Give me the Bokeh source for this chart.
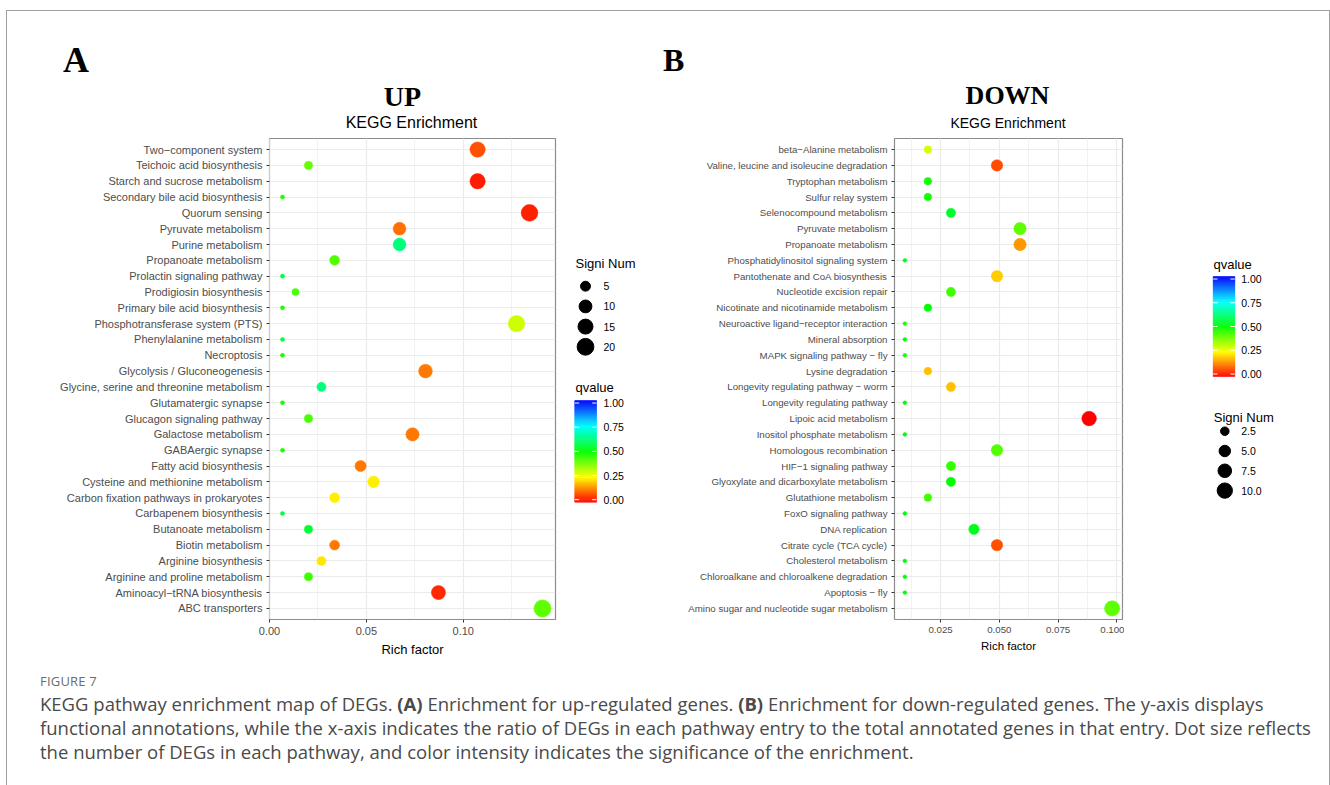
import numpy as np
from bokeh.plotting import figure
from bokeh.models import (FactorRange, Range1d, ColumnDataSource, LinearColorMapper,
                          SingleIntervalTicker, PrintfTickFormatter, Div)
from bokeh.layouts import row, column
from bokeh.transform import transform
from bokeh.embed import file_html
from bokeh.resources import INLINE
from bokeh.core.properties import value

# ---------------- data ----------------
up_terms = [
    "Two\u2212component system", "Teichoic acid biosynthesis", "Starch and sucrose metabolism",
    "Secondary bile acid biosynthesis", "Quorum sensing", "Pyruvate metabolism", "Purine metabolism",
    "Propanoate metabolism", "Prolactin signaling pathway", "Prodigiosin biosynthesis",
    "Primary bile acid biosynthesis", "Phosphotransferase system (PTS)", "Phenylalanine metabolism",
    "Necroptosis", "Glycolysis / Gluconeogenesis", "Glycine, serine and threonine metabolism",
    "Glutamatergic synapse", "Glucagon signaling pathway", "Galactose metabolism", "GABAergic synapse",
    "Fatty acid biosynthesis", "Cysteine and methionine metabolism",
    "Carbon fixation pathways in prokaryotes", "Carbapenem biosynthesis", "Butanoate metabolism",
    "Biotin metabolism", "Arginine biosynthesis", "Arginine and proline metabolism",
    "Aminoacyl\u2212tRNA biosynthesis", "ABC transporters",
]
up_rich = [0.1074, 0.0201, 0.1074, 0.0067, 0.1342, 0.0671, 0.0671, 0.0336, 0.0067, 0.0134,
           0.0067, 0.1275, 0.0067, 0.0067, 0.0805, 0.0268, 0.0067, 0.0201, 0.0738, 0.0067,
           0.0470, 0.0537, 0.0336, 0.0067, 0.0201, 0.0336, 0.0268, 0.0201, 0.0872, 0.1409]
up_count = [16, 3, 16, 1, 20, 10, 10, 5, 1, 2,
            1, 19, 1, 1, 12, 4, 1, 3, 11, 1,
            7, 8, 5, 1, 3, 5, 4, 3, 13, 21]
up_q = [0.08, 0.40, 0.03, 0.48, 0.035, 0.11, 0.62, 0.42, 0.57, 0.43,
        0.48, 0.30, 0.57, 0.48, 0.12, 0.62, 0.48, 0.43, 0.12, 0.48,
        0.12, 0.235, 0.235, 0.56, 0.55, 0.12, 0.23, 0.44, 0.04, 0.41]

down_terms = [
    "beta\u2212Alanine metabolism", "Valine, leucine and isoleucine degradation", "Tryptophan metabolism",
    "Sulfur relay system", "Selenocompound metabolism", "Pyruvate metabolism", "Propanoate metabolism",
    "Phosphatidylinositol signaling system", "Pantothenate and CoA biosynthesis",
    "Nucleotide excision repair", "Nicotinate and nicotinamide metabolism",
    "Neuroactive ligand\u2212receptor interaction", "Mineral absorption",
    "MAPK signaling pathway \u2212 fly", "Lysine degradation", "Longevity regulating pathway \u2212 worm",
    "Longevity regulating pathway", "Lipoic acid metabolism", "Inositol phosphate metabolism",
    "Homologous recombination", "HIF\u22121 signaling pathway", "Glyoxylate and dicarboxylate metabolism",
    "Glutathione metabolism", "FoxO signaling pathway", "DNA replication", "Citrate cycle (TCA cycle)",
    "Cholesterol metabolism", "Chloroalkane and chloroalkene degradation", "Apoptosis \u2212 fly",
    "Amino sugar and nucleotide sugar metabolism",
]
down_rich = [0.0196, 0.0490, 0.0196, 0.0196, 0.0294, 0.0588, 0.0588, 0.0098, 0.0490, 0.0294,
             0.0196, 0.0098, 0.0098, 0.0098, 0.0196, 0.0294, 0.0098, 0.0882, 0.0098, 0.0490,
             0.0294, 0.0294, 0.0196, 0.0098, 0.0392, 0.0490, 0.0098, 0.0098, 0.0098, 0.0980]
down_count = [2, 5, 2, 2, 3, 6, 6, 1, 5, 3,
              2, 1, 1, 1, 2, 3, 1, 9, 1, 5,
              3, 3, 2, 1, 4, 5, 1, 1, 1, 10]
down_q = [0.29, 0.075, 0.48, 0.48, 0.54, 0.41, 0.15, 0.52, 0.20, 0.44,
          0.50, 0.47, 0.50, 0.47, 0.19, 0.19, 0.50, 0.003, 0.50, 0.42,
          0.45, 0.50, 0.44, 0.50, 0.53, 0.08, 0.50, 0.50, 0.50, 0.41]

q_ticks = [0.0, 0.25, 0.5, 0.75, 1.0]
q_tick_labels = ["0.00", "0.25", "0.50", "0.75", "1.00"]
up_size_breaks = [5, 10, 15, 20]
up_size_labels = ["5", "10", "15", "20"]
down_size_breaks = [2.5, 5.0, 7.5, 10.0]
down_size_labels = ["2.5", "5.0", "7.5", "10.0"]

# ---------------- styling helpers ----------------
SANS = "Liberation Sans"
SERIF = "Liberation Serif"
STOPS = [(255, 0, 0), (255, 255, 0), (0, 255, 0), (0, 255, 255), (0, 0, 255)]


def make_palette(n=256):
    out = []
    for i in range(n):
        t = i / (n - 1) * (len(STOPS) - 1)
        k = min(int(t), len(STOPS) - 2)
        f = t - k
        c = [int(round(STOPS[k][j] * (1 - f) + STOPS[k + 1][j] * f)) for j in range(3)]
        out.append("#%02x%02x%02x" % tuple(c))
    return out


PALETTE = make_palette()
mapper = LinearColorMapper(palette=PALETTE, low=0, high=1)


def size_scale(n, nmin, nmax, k):
    s = 1 + 5 * np.sqrt(np.clip((np.asarray(n, float) - nmin) / (nmax - nmin), 0, 1))
    return k * s + 1.5


PAGE_TOP = 11          # first pixel row below the frame line
HEAD_H = 120           # header strip (panel letters and titles)
FIG_H = 534
BORDER_T, BORDER_B = 7, 46
FIG_TOP = PAGE_TOP + HEAD_H
FRAME_TOP = FIG_TOP + BORDER_T
FRAME_BOT = FIG_TOP + FIG_H - BORDER_B


def panel(terms, rich, count, q, width, left, k, tick_px, xlab_px, interval, fmt):
    factors = list(reversed(terms))
    lo, hi = min(rich), max(rich)
    pad = (hi - lo) * 0.05
    p = figure(width=width, height=FIG_H,
               x_range=Range1d(lo - pad, hi + pad),
               y_range=FactorRange(factors=factors, range_padding=0.2, range_padding_units="absolute"),
               output_backend="svg", toolbar_location=None,
               min_border_left=left, min_border_right=2, min_border_top=BORDER_T,
               min_border_bottom=BORDER_B)
    nmin, nmax = min(count), max(count)
    src = ColumnDataSource(dict(term=terms, rich=rich, q=q, d=size_scale(count, nmin, nmax, k)))
    p.scatter("rich", "term", size="d", source=src,
              fill_color=transform("q", mapper), line_color=transform("q", mapper), line_width=0.5)
    tk = SingleIntervalTicker(interval=interval, num_minor_ticks=2)
    p.xaxis.ticker = tk
    p.xgrid.ticker = tk
    p.xaxis.formatter = PrintfTickFormatter(format=fmt)
    p.xaxis.axis_label = "Rich factor"
    p.xaxis.axis_label_text_font = SANS
    p.xaxis.axis_label_text_font_size = xlab_px
    p.xaxis.axis_label_text_font_style = "normal"
    p.xaxis.axis_label_text_color = "#000000"
    p.xaxis.axis_label_standoff = 4
    p.axis.axis_line_color = None
    p.axis.major_tick_line_color = "#333333"
    p.axis.major_tick_out = 3
    p.axis.major_tick_in = 0
    p.axis.minor_tick_line_color = None
    p.axis.major_label_text_font = SANS
    p.axis.major_label_text_font_size = tick_px
    p.axis.major_label_text_color = "#4D4D4D"
    p.yaxis.major_label_standoff = 4
    p.xaxis.major_label_standoff = 3
    p.xgrid.grid_line_color = "#EBEBEB"
    p.xgrid.grid_line_width = 1.2
    p.xgrid.minor_grid_line_color = "#EFEFEF"
    p.xgrid.minor_grid_line_width = 0.8
    p.ygrid.grid_line_color = "#EBEBEB"
    p.ygrid.grid_line_width = 1.2
    p.outline_line_color = "#8c8c8c"
    p.outline_line_width = 1.2
    p.background_fill_color = "white"
    p.border_fill_color = "white"
    return p, nmin, nmax


def legend_fig(x0, x1, size_title_xy, dot_x, dot_y0, dot_dy, breaks, labels, nmin, nmax, k,
               q_title_xy, bar, lab_x):
    # ranges are in page pixels so the legend keys line up with the reference layout
    lg = figure(width=x1 - x0, height=FIG_H, x_range=Range1d(x0, x1),
                y_range=Range1d(FRAME_BOT, FRAME_TOP),
                x_axis_type=None, y_axis_type=None, output_backend="svg", toolbar_location=None,
                min_border_left=0, min_border_right=0, min_border_top=BORDER_T,
                min_border_bottom=BORDER_B)
    lg.outline_line_color = None
    lg.grid.visible = False
    txt = dict(text_font=value(SANS), text_baseline="middle", text_align="left")
    # size legend
    lg.text(x=[size_title_xy[0]], y=[size_title_xy[1]], text=["Signi Num"], text_font_size="13px",
            text_color="black", **txt)
    ys = [dot_y0 + i * dot_dy for i in range(len(breaks))]
    lg.scatter(x=[dot_x] * len(breaks), y=ys, size=size_scale(breaks, nmin, nmax, k), color="black")
    lg.text(x=[lab_x] * len(breaks), y=ys, text=labels, text_font_size="10.5px", text_color="black", **txt)
    # colour bar
    lg.text(x=[q_title_xy[0]], y=[q_title_xy[1]], text=["qvalue"], text_font_size="13px",
            text_color="black", **txt)
    bx0, bx1, by_top, by_bot = bar
    nb = 100
    edges = np.linspace(by_bot, by_top, nb + 1)
    cols = [PALETTE[int(round((i + 0.5) / nb * (len(PALETTE) - 1)))] for i in range(nb)]
    lg.quad(left=[bx0] * nb, right=[bx1] * nb, bottom=edges[:-1], top=edges[1:],
            fill_color=cols, line_color=cols, line_width=0.6)
    h = by_bot - by_top
    inset = h / 40.0
    ty = [by_bot - inset - v * (h - 2 * inset) for v in q_ticks]
    w = (bx1 - bx0) / 5.0
    n = len(q_ticks)
    lg.segment(x0=[bx0] * n, x1=[bx0 + w] * n, y0=ty, y1=ty, line_color="white", line_width=1)
    lg.segment(x0=[bx1 - w] * n, x1=[bx1] * n, y0=ty, y1=ty, line_color="white", line_width=1)
    lg.text(x=[lab_x] * n, y=ty, text=q_tick_labels, text_font_size="10.5px", text_color="black", **txt)
    return lg


# ---------------- panels ----------------
pA, nminA, nmaxA = panel(up_terms, up_rich, up_count, up_q, width=550, left=262, k=2.6,
                         tick_px="11px", xlab_px="13px", interval=0.05, fmt="%.2f")
pB, nminB, nmaxB = panel(down_terms, down_rich, down_count, down_q, width=484, left=254, k=2.3,
                         tick_px="9.7px", xlab_px="11.5px", interval=0.025, fmt="%.3f")

lgA = legend_fig(557, 640, (575, 262.7), 585, 285.7, 20.2, up_size_breaks, up_size_labels,
                 nminA, nmaxA, 2.6, (575, 387), (574.3, 596, 400, 501.7), 603)
lgB = legend_fig(1124, 1329, (1213.3, 416.7), 1224.3, 430.7, 19.8, down_size_breaks, down_size_labels,
                 nminB, nmaxB, 2.3, (1213, 264), (1212.7, 1234.3, 276, 376), 1240.7)


# ---------------- header (panel letters and titles) ----------------
def span(text, left, top, size, family, bold, center=False):
    w = 300
    pos = "left:%.1fpx;" % (left - w / 2 if center else left)
    extra = "width:%dpx;text-align:center;" % w if center else ""
    return ('<span style="position:absolute;%stop:%.1fpx;%sfont-family:\'%s\';font-size:%s;'
            'font-weight:%s;line-height:1;white-space:nowrap;color:#000;">%s</span>'
            % (pos, top, extra, family, size, "bold" if bold else "normal", text))


def top_from_baseline(baseline, px, serif):
    return baseline - (0.8375 if serif else 0.8465) * px


header_html = ('<div style="position:relative;width:1322px;height:%dpx;">' % HEAD_H
               + span("A", 56, top_from_baseline(61, 36, True), "36px", SERIF, True)
               + span("UP", 395.5, top_from_baseline(95.7, 28, True), "28px", SERIF, True, True)
               + span("KEGG Enrichment", 404.5, top_from_baseline(117.3, 16, False), "16px", SANS, False, True)
               + span("B", 656, top_from_baseline(60, 32, True), "32px", SERIF, True)
               + span("DOWN", 1000.5, top_from_baseline(94, 26, True), "26px", SERIF, True, True)
               + span("KEGG Enrichment", 1001, top_from_baseline(117.3, 14, False), "14px", SANS, False, True)
               + '</div>')
header = Div(text=header_html, width=1322, height=HEAD_H, margin=0)

caption_html = (
    '<div style="font-family:\'Open Sans\',sans-serif;color:#4a4a4a;padding-left:33px;padding-top:6px;">'
    '<div style="font-size:13px;line-height:20px;color:#6b6b6b;letter-spacing:0.2px;">FIGURE 7</div>'
    '<div style="font-size:18.5px;line-height:24px;margin-top:1px;white-space:nowrap;">'
    'KEGG pathway enrichment map of DEGs. <b>(A)</b> Enrichment for up-regulated genes. '
    '<b>(B)</b> Enrichment for down-regulated genes. The y-axis displays<br>'
    'functional annotations, while the x-axis indicates the ratio of DEGs in each pathway entry to the '
    'total annotated genes in that entry. Dot size reflects<br>'
    'the number of DEGs in each pathway, and color intensity indicates the significance of the enrichment.'
    '</div></div>'
)
caption = Div(text=caption_html, width=1322, height=785 - FIG_TOP - FIG_H, margin=0)

LINE = {"background-color": "#a0a0a0"}
top_gap = Div(text="", width=1330, height=10, margin=0)
top_line = row(Div(text="", width=6, height=1, margin=0),
               Div(text="", width=1324, height=1, margin=0, styles=LINE))
main = row(Div(text="", width=6, height=774, margin=0),
           Div(text="", width=1, height=774, margin=0, styles=LINE),
           column(header, row(pA, lgA, pB, lgB), caption),
           Div(text="", width=1, height=774, margin=0, styles=LINE))
page = column(top_gap, top_line, main)

open("out.html", "w").write(file_html(page, INLINE))
